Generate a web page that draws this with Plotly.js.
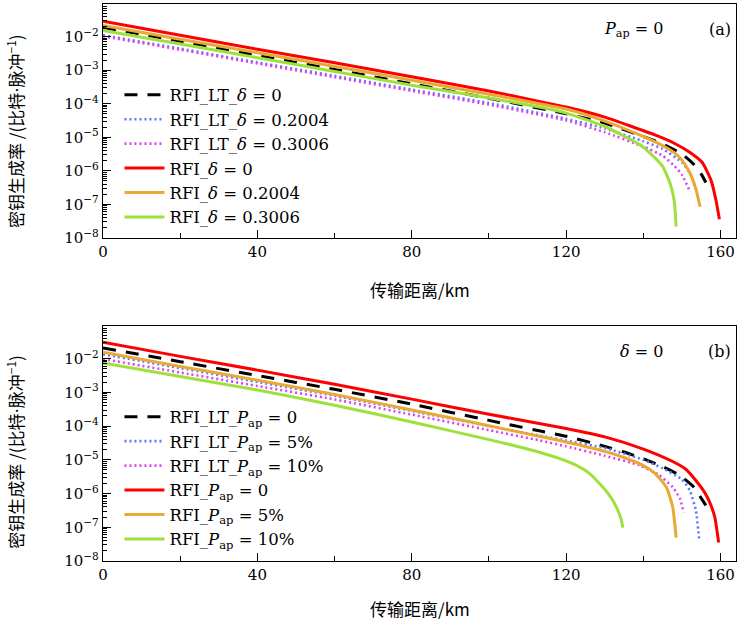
<!DOCTYPE html>
<html>
<head>
<meta charset="utf-8">
<script src="https://cdn.plot.ly/plotly-3.0.1.min.js"></script>
<style>html,body{margin:0;padding:0;background:#fff}#chart{width:737px;height:625px}</style>
</head>
<body>
<div id="chart"></div>
<script>
// ---------- Panel (a): P_ap = 0 ----------
const aRfiD0X   = [0,20,40,60,80,100,113,120,130,143,148,152,155.3,157.5,158.8,159.7];
const aRfiD0Y   = [2.88e-2,1.10e-2,4.17e-3,1.66e-3,6.31e-4,2.40e-4,1.17e-4,7.94e-5,3.98e-5,1.17e-5,6.61e-6,3.55e-6,1.74e-6,5.37e-7,1.35e-7,3.63e-8];
const aLtD0X    = [0,20,40,60,80,100,120,130,140,145,150,153,155,156.2];
const aLtD0Y    = [1.86e-2,7.24e-3,2.75e-3,1.05e-3,3.89e-4,1.45e-4,5.01e-5,2.63e-5,1.05e-5,6.31e-6,3.16e-6,1.58e-6,7.94e-7,4.47e-7];
const aRfiD2X   = [0,20,40,60,80,100,113,120,130,139,145,148,150,152,153.5,154.7];
const aRfiD2Y   = [2.14e-2,8.32e-3,3.31e-3,1.29e-3,5.01e-4,1.91e-4,1.00e-4,6.92e-5,3.02e-5,1.17e-5,5.62e-6,3.47e-6,2.09e-6,8.91e-7,3.16e-7,8.51e-8];
const aRfiD3X   = [0,20,40,60,80,100,113,120,130,139,142,145,147,148,148.5];
const aRfiD3Y   = [1.51e-2,6.03e-3,2.34e-3,9.12e-4,3.55e-4,1.48e-4,7.94e-5,5.25e-5,2.09e-5,6.03e-6,3.16e-6,1.35e-6,3.98e-7,1.26e-7,2.19e-8];
const aLtD2X    = [0,20,40,60,80,100,120,130,140,145,150,152,154];
const aLtD2Y    = [1.10e-2,4.37e-3,1.70e-3,6.76e-4,2.63e-4,1.05e-4,3.55e-5,1.82e-5,7.59e-6,4.47e-6,1.78e-6,8.91e-7,2.14e-7];
const aLtD3X    = [0,20,40,60,80,100,120,130,140,145,148,150,151.8];
const aLtD3Y    = [1.02e-2,4.07e-3,1.58e-3,6.17e-4,2.40e-4,9.33e-5,3.16e-5,1.41e-5,5.25e-6,2.82e-6,1.41e-6,7.59e-7,2.82e-7];

// ---------- Panel (b): delta = 0 ----------
const bRfiP0X   = [0,20,40,60,80,100,113,120,130,140,147.6,151,153.6,155.5,157,158.5,159.5];
const bRfiP0Y   = [3.09e-2,1.17e-2,4.57e-3,1.74e-3,6.31e-4,2.24e-4,1.20e-4,8.51e-5,4.79e-5,2.09e-5,8.91e-6,5.25e-6,2.45e-6,1.26e-6,6.17e-7,2.00e-7,3.55e-8];
const bLtP0X    = [0,20,40,60,80,100,113,120,130,135,140,145,149.4,153,155.4,156.2];
const bLtP0Y    = [2.09e-2,8.13e-3,3.16e-3,1.23e-3,4.47e-4,1.48e-4,7.24e-5,5.01e-5,2.51e-5,1.70e-5,1.07e-5,6.31e-6,3.47e-6,1.58e-6,6.17e-7,4.47e-7];
const bRfiP5X   = [0,20,40,60,80,100,113,120,130,135,140,143,146,147.6,148.5];
const bRfiP5Y   = [1.55e-2,5.89e-3,2.29e-3,8.71e-4,3.02e-4,1.02e-4,5.01e-5,3.39e-5,1.78e-5,1.17e-5,6.76e-6,3.98e-6,1.51e-6,3.98e-7,4.90e-8];
const bLtP5X    = [0,20,40,60,80,100,113,120,130,140,145,150,152,153.6,154.5];
const bLtP5Y    = [1.35e-2,5.25e-3,2.04e-3,7.94e-4,2.82e-4,1.00e-4,5.25e-5,3.72e-5,2.24e-5,1.00e-5,5.62e-6,2.63e-6,1.26e-6,3.16e-7,3.98e-8];
const bLtP10X   = [0,20,40,60,80,100,113,120,130,139,144,147.6,149.5,150.4];
const bLtP10Y   = [9.77e-3,3.89e-3,1.55e-3,6.17e-4,2.19e-4,7.59e-5,3.80e-5,2.51e-5,1.32e-5,6.92e-6,3.55e-6,1.55e-6,7.08e-7,2.75e-7];
const bRfiP10X  = [0,20,40,60,80,100,110,118,122,126,129,131.5,133,134.2,134.7];
const bRfiP10Y  = [7.41e-3,2.95e-3,1.17e-3,4.17e-4,1.32e-4,3.98e-5,2.09e-5,1.12e-5,7.41e-6,3.98e-6,1.78e-6,7.94e-7,3.98e-7,1.78e-7,9.77e-8];

// ---------- labels ----------
const legendA = ['RFI_LT_<i>δ</i> = 0','RFI_LT_<i>δ</i> = 0.2004','RFI_LT_<i>δ</i> = 0.3006','RFI_<i>δ</i> = 0','RFI_<i>δ</i> = 0.2004','RFI_<i>δ</i> = 0.3006'];
const legendB = ['RFI_LT_<i>P</i><sub>ap</sub> = 0','RFI_LT_<i>P</i><sub>ap</sub> = 5%','RFI_LT_<i>P</i><sub>ap</sub> = 10%','RFI_<i>P</i><sub>ap</sub> = 0','RFI_<i>P</i><sub>ap</sub> = 5%','RFI_<i>P</i><sub>ap</sub> = 10%'];
const xTicks = [0,40,80,120,160];
const xMinorTicks = [20,60,100,140];
const yExponents = [-8,-7,-6,-5,-4,-3,-2];
const xTitle = '传输距离/km';
const yTitle = '密钥生成率 /(比特<span style="font-family:DejaVu Serif">·</span>脉冲<sup>−1</sup>)';

const serif = 'DejaVu Serif';
const cjk = 'Noto Sans CJK SC';
const styles = [
  {color:'#000000', width:3,   dash:'13px,10px'},
  {color:'#5a78ff', width:2.6, dash:'2px,3px'},
  {color:'#e040f0', width:2.6, dash:'2px,3px'},
  {color:'#ff0000', width:3,   dash:'solid'},
  {color:'#e8a935', width:3,   dash:'solid'},
  {color:'#9ee03c', width:3,   dash:'solid'}
];

const seriesA = [[aLtD0X,aLtD0Y],[aLtD2X,aLtD2Y],[aLtD3X,aLtD3Y],[aRfiD0X,aRfiD0Y],[aRfiD2X,aRfiD2Y],[aRfiD3X,aRfiD3Y]];
const seriesB = [[bLtP0X,bLtP0Y],[bLtP5X,bLtP5Y],[bLtP10X,bLtP10Y],[bRfiP0X,bRfiP0Y],[bRfiP5X,bRfiP5Y],[bRfiP10X,bRfiP10Y]];

const traces = [];
seriesA.forEach((s,i)=>traces.push({x:s[0], y:s[1], mode:'lines', name:legendA[i], xaxis:'x', yaxis:'y', legend:'legend',
  line:Object.assign({shape:'spline', smoothing:0.5}, styles[i])}));
seriesB.forEach((s,i)=>traces.push({x:s[0], y:s[1], mode:'lines', name:legendB[i], xaxis:'x2', yaxis:'y2', legend:'legend2',
  line:Object.assign({shape:'spline', smoothing:0.5}, styles[i])}));

const yTickVals = yExponents.map(e=>Math.pow(10,e));
const yTickText = yExponents.map(e=>'10<sup>−'+(-e)+'</sup>');
const yMinor = [];
yExponents.forEach(e=>{ if(e<-1){ for(let k=2;k<=9;k++) yMinor.push(k*Math.pow(10,e)); } });

function xAxis(anchor){
  return {anchor:anchor, domain:[0,1], range:[0,164], showgrid:false, zeroline:false,
    showline:true, mirror:true, linecolor:'#000', linewidth:1.2,
    ticks:'inside', ticklen:8, tickwidth:1, tickcolor:'#000',
    tickmode:'array', tickvals:xTicks, ticktext:xTicks.map(String),
    tickfont:{family:serif, size:15, color:'#000'},
    minor:{tickmode:'array', tickvals:xMinorTicks, ticks:'inside', ticklen:5, tickwidth:1, tickcolor:'#000', showgrid:false}};
}
function yAxis(anchor, dom){
  return {anchor:anchor, domain:dom, type:'log', range:[-8,-1.03], showgrid:false, zeroline:false,
    showline:true, mirror:true, linecolor:'#000', linewidth:1.2,
    ticks:'inside', ticklen:8, tickwidth:1, tickcolor:'#000',
    tickmode:'array', tickvals:yTickVals, ticktext:yTickText,
    tickfont:{family:serif, size:15, color:'#000'},
    minor:{tickmode:'array', tickvals:yMinor, ticks:'inside', ticklen:4, tickwidth:1, tickcolor:'#000', showgrid:false}};
}

const annFont = {family:serif, size:16, color:'#000'};
const legFont = {family:serif, size:16.5, color:'#000'};
const layout = {
  width:737, height:625, paper_bgcolor:'#fff', plot_bgcolor:'#fff',
  margin:{l:103, r:1, t:4, b:64},
  showlegend:true,
  xaxis:xAxis('y'), yaxis:yAxis('x',[0.58,1]),
  xaxis2:xAxis('y2'), yaxis2:yAxis('x2',[0,0.422]),
  legend:{x:0.026, y:0.868, xanchor:'left', yanchor:'top', bgcolor:'rgba(0,0,0,0)', borderwidth:0,
    font:legFont, itemwidth:40, tracegroupgap:0},
  legend2:{x:0.026, y:0.29, xanchor:'left', yanchor:'top', bgcolor:'rgba(0,0,0,0)', borderwidth:0,
    font:legFont, itemwidth:40, tracegroupgap:0},
  annotations:[
    {xref:'paper', yref:'paper', x:0.888, y:0.955, xanchor:'right', yanchor:'middle', showarrow:false, text:'<i>P</i><sub>ap</sub> = 0', font:annFont},
    {xref:'paper', yref:'paper', x:0.995, y:0.955, xanchor:'right', yanchor:'middle', showarrow:false, text:'(a)', font:annFont},
    {xref:'paper', yref:'paper', x:0.888, y:0.377, xanchor:'right', yanchor:'middle', showarrow:false, text:'<i>δ</i> = 0', font:annFont},
    {xref:'paper', yref:'paper', x:0.995, y:0.377, xanchor:'right', yanchor:'middle', showarrow:false, text:'(b)', font:annFont},
    {xref:'paper', yref:'paper', x:0.5, y:0.488, xanchor:'center', yanchor:'middle', showarrow:false, text:xTitle,
      font:{family:cjk, size:17, color:'#000'}},
    {xref:'paper', yref:'paper', x:0.5, y:-0.0844, xanchor:'center', yanchor:'middle', showarrow:false, text:xTitle,
      font:{family:cjk, size:17, color:'#000'}},
    {xref:'paper', yref:'paper', x:-0.139, y:0.772, xanchor:'center', yanchor:'middle', showarrow:false, textangle:-90, text:yTitle,
      font:{family:cjk, size:17, color:'#000'}},
    {xref:'paper', yref:'paper', x:-0.139, y:0.196, xanchor:'center', yanchor:'middle', showarrow:false, textangle:-90, text:yTitle,
      font:{family:cjk, size:17, color:'#000'}}
  ]
};
Plotly.newPlot('chart', traces, layout, {staticPlot:true, displayModeBar:false});
</script>
</body>
</html>
